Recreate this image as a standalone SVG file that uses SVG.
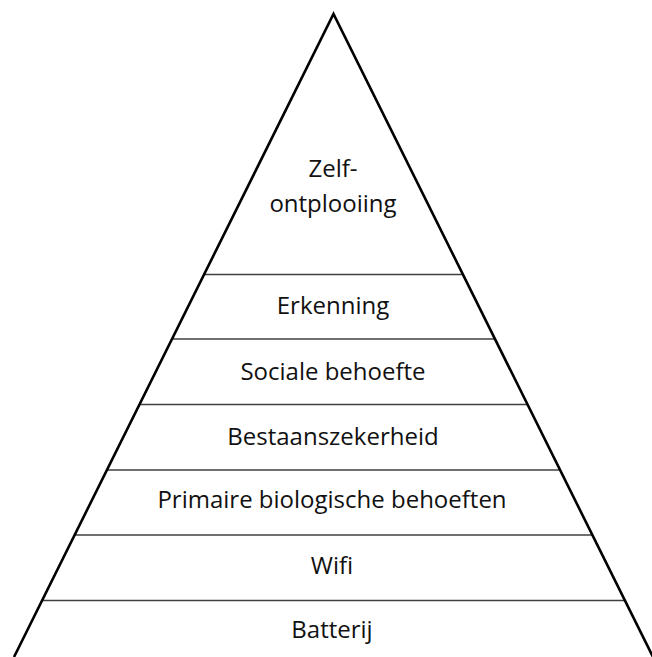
<svg xmlns="http://www.w3.org/2000/svg" width="652" height="657" viewBox="0 0 652 657">
<style>
.lvl{stroke:#404040;stroke-width:1.6;fill:none}
.edge{stroke:#000;stroke-width:2.6;fill:none;stroke-linejoin:miter}
text{font-family:"Open Sans","Liberation Sans",Arial,sans-serif;font-size:24px;fill:#111;text-anchor:middle}
</style>
<rect width="652" height="657" fill="#fff"/>
<g id="connectors">
<line class="lvl" x1="204.6" y1="274.5" x2="462.4" y2="274.5"/>
<line class="lvl" x1="172.5" y1="339" x2="494.5" y2="339"/>
<line class="lvl" x1="140" y1="404.5" x2="527" y2="404.5"/>
<line class="lvl" x1="107.5" y1="470" x2="559.5" y2="470"/>
<line class="lvl" x1="75.2" y1="535" x2="591.8" y2="535"/>
<line class="lvl" x1="42.7" y1="600.5" x2="624.3" y2="600.5"/>
<polyline class="edge" points="14,657 333.5,14 653,657"/>
</g>
<g id="zelfontplooiing"><text x="333" y="177">Zelf-</text><text x="333" y="212">ontplooiing</text></g>
<g id="erkenning"><text x="333" y="314">Erkenning</text></g>
<g id="sociale"><text x="333" y="380">Sociale behoefte</text></g>
<g id="bestaan"><text x="333" y="445">Bestaanszekerheid</text></g>
<g id="primaire"><text x="332" y="508">Primaire biologische behoeften</text></g>
<g id="wifi"><text x="332" y="574">Wifi</text></g>
<g id="batterij"><text x="332" y="638">Batterij</text></g>
</svg>
